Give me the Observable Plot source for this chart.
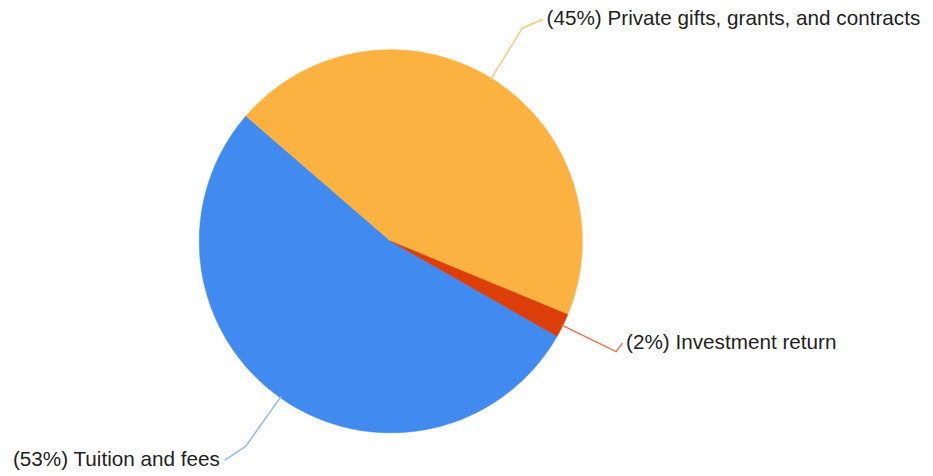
<!DOCTYPE html>
<html><head><meta charset="utf-8">
<script src="https://cdn.jsdelivr.net/npm/d3@7"></script>
<script src="https://cdn.jsdelivr.net/npm/@observablehq/plot@0.6"></script>
<style>html,body{margin:0;padding:0;background:#fff;} svg{display:block;}</style>
</head><body><div id="chart"></div>
<script>
// ---- data ----
const categories = ["Tuition and fees", "Private gifts, grants, and contracts", "Investment return"];
const values = [53.1, 44.9, 2.0];
const percentLabels = ["53%", "45%", "2%"];
const sliceColors = ["#418af0", "#fbb240", "#dc3e0a"];
const leaderColors = ["#8fbaf5", "#fcc880", "#e8764f"];

// ---- layout ----
const W = 933, H = 476;
const cx = 390.3, cy = 240.8, R = 191.5;
const startDeg = 119.7;
const kneeFactor = 1.31;
const labelNudge = [[-21, 14], [20, -8], [6, -8]];

const arcs = d3.pie().sort(null)
  .startAngle(startDeg * Math.PI / 180)
  .endAngle((startDeg + 360) * Math.PI / 180)(values);

const pt = (a, r) => ({x: cx + r * Math.sin(a), y: cy - r * Math.cos(a)});

const slicePts = [];
arcs.forEach((a, i) => {
  slicePts.push({i, ...pt(0, 0)});
  const n = Math.max(2, Math.ceil((a.endAngle - a.startAngle) / (Math.PI / 360)));
  for (let k = 0; k <= n; k++) {
    const ang = a.startAngle + (a.endAngle - a.startAngle) * k / n;
    slicePts.push({i, ...pt(ang, R)});
  }
  slicePts.push({i, ...pt(0, 0)});
});

const leaderPts = [];
const labelRows = [];
arcs.forEach((a, i) => {
  const mid = (a.startAngle + a.endAngle) / 2;
  const p0 = pt(mid, R - 1);
  const p1 = pt(mid, R * kneeFactor);
  const p2 = {x: p1.x + labelNudge[i][0], y: p1.y + labelNudge[i][1]};
  leaderPts.push({i, ...p0}, {i, ...p1}, {i, ...p2});
  const right = Math.sin(mid) > 0;
  labelRows.push({
    i,
    x: p2.x + (right ? 4 : -5),
    y: p2.y - 1,
    anchor: right ? "start" : "end",
    text: `(${percentLabels[i]}) ${categories[i]}`
  });
});

const chart = Plot.plot({
  width: W, height: H, margin: 0,
  x: {domain: [0, W], range: [0, W], axis: null},
  y: {domain: [0, H], range: [0, H], axis: null},
  color: {type: "identity"},
  marks: [
    Plot.line(slicePts, {x: "x", y: "y", z: "i", fill: d => sliceColors[d.i], stroke: d => sliceColors[d.i], strokeWidth: 0.6, curve: "linear"}),
    Plot.line(leaderPts, {x: "x", y: "y", z: "i", stroke: d => leaderColors[d.i], strokeWidth: 1.5, curve: "linear"}),
    Plot.text(labelRows.filter(d => d.anchor === "start"), {x: "x", y: "y", text: "text", textAnchor: "start", fill: "#222", fontSize: 20.7, fontFamily: "Liberation Sans, Arial, sans-serif"}),
    Plot.text(labelRows.filter(d => d.anchor === "end"), {x: "x", y: "y", text: "text", textAnchor: "end", fill: "#222", fontSize: 20.7, fontFamily: "Liberation Sans, Arial, sans-serif"})
  ]
});
document.getElementById("chart").appendChild(chart);
</script>
</body></html>
